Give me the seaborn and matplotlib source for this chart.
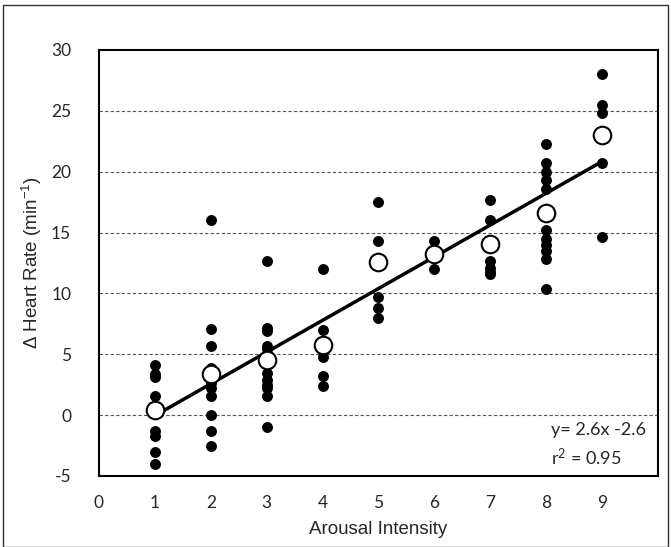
import numpy as np
import pandas as pd
import matplotlib.pyplot as plt
import seaborn as sns
from matplotlib.patches import Rectangle

# === Données ===
levels = [1, 2, 3, 4, 5, 6, 7, 8, 9]
hr_1 = [4.1, 3.4, 3.1, 1.6, -1.3, -1.7, -3.0, -4.0]
hr_2 = [16.0, 7.1, 5.7, 3.9, 3.0, 2.6, 2.2, 1.6, 0.0, -1.3, -2.5]
hr_3 = [12.7, 7.2, 6.9, 5.7, 5.4, 3.5, 2.9, 2.5, 2.2, 1.6, -1.0]
hr_4 = [12.0, 7.0, 4.8, 3.2, 2.4]
hr_5 = [17.5, 14.3, 9.7, 8.8, 8.0]
hr_6 = [14.3, 12.0]
hr_7 = [17.7, 16.0, 12.7, 12.1, 11.8, 11.6]
hr_8 = [22.3, 20.7, 20.0, 19.3, 18.6, 15.2, 14.5, 14.0, 13.5, 12.8, 10.4]
hr_9 = [28.0, 25.5, 24.8, 20.7, 14.6]
group_means = [0.4, 3.4, 4.5, 5.8, 12.6, 13.2, 14.1, 16.6, 23.0]

x_ticks = [0, 1, 2, 3, 4, 5, 6, 7, 8, 9, 10]
x_tick_labels = ['0', '1', '2', '3', '4', '5', '6', '7', '8', '9', '']
y_ticks = [-5, 0, 5, 10, 15, 20, 25, 30]

groups = [hr_1, hr_2, hr_3, hr_4, hr_5, hr_6, hr_7, hr_8, hr_9]
points = pd.DataFrame({
    'intensity': np.repeat(levels, [len(g) for g in groups]),
    'hr': np.concatenate(groups),
})
means = pd.DataFrame({'intensity': levels, 'hr': group_means})

sns.set_style('white')
plt.rcParams['font.family'] = ['Liberation Sans', 'DejaVu Sans']
plt.rcParams['mathtext.default'] = 'regular'

fig = plt.figure(figsize=(6.71, 5.47), dpi=100)
ax = fig.add_axes([0.1475, 0.1298, 0.8331, 0.7788])

# cadre extérieur
fig.patches.append(Rectangle((0.005, 0.0), 0.99, 0.99, transform=fig.transFigure,
                             fill=False, edgecolor='#333333', linewidth=1.0))

sns.scatterplot(data=points, x='intensity', y='hr', ax=ax, color='black',
                s=62, edgecolor='black', linewidth=0, zorder=3)
sns.regplot(data=means, x='intensity', y='hr', ax=ax, scatter=False, ci=None,
            line_kws={'color': 'black', 'linewidth': 2.5, 'zorder': 4})
sns.scatterplot(data=means, x='intensity', y='hr', ax=ax, color='white',
                s=160, edgecolor='black', linewidth=1.5, zorder=5)

ax.set_xlim(0, 10)
ax.set_ylim(-5, 30)
ax.set_xticks(x_ticks)
ax.set_xticklabels(x_tick_labels, family='Lato', fontsize=12.5)
ax.set_yticks(y_ticks)
ax.set_yticklabels([str(v) for v in y_ticks], family='Lato', fontsize=12.5)
ax.tick_params(axis='x', direction='in', length=5, width=0.8, color='#888888', pad=14)
ax.tick_params(axis='y', length=0, pad=20)

for v in y_ticks[1:-1]:
    ax.axhline(v, color='#555555', linestyle=(0, (3, 2)), linewidth=0.8, zorder=1)

for s in ax.spines.values():
    s.set_color('black')
    s.set_linewidth(1.5)

ax.set_xlabel('Arousal Intensity', fontsize=13.5, labelpad=7)
ax.set_ylabel('Δ Heart Rate (min$^{-1}$)', fontsize=13.5, labelpad=5)

ax.text(8.08, -2.45, 'y= 2.6x -2.6\nr$^2$ = 0.95', ha='left', va='center',
        family='Lato', fontsize=13, linespacing=1.45)

fig.savefig('out.png', dpi=100)
